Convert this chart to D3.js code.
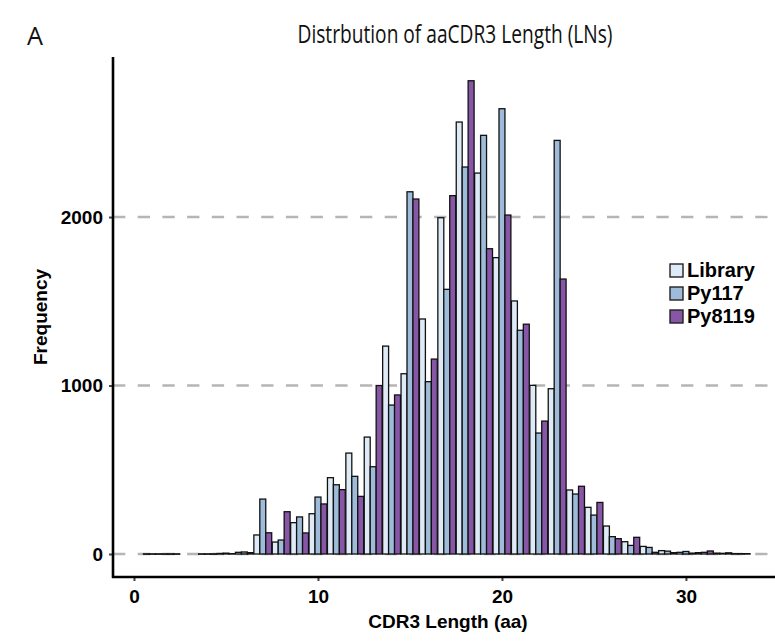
<!DOCTYPE html>
<html>
<head>
<meta charset="utf-8">
<script src="https://cdn.jsdelivr.net/npm/d3@7"></script>
<style>
  html, body { margin: 0; padding: 0; background: #fff; }
  svg { display: block; }
  text.b { font-family: "Liberation Sans", Arial, Helvetica, sans-serif; font-weight: 700; fill: #000; }
</style>
</head>
<body>
<svg id="chart" width="775" height="644"></svg>
<script>
const lengths = [1, 2, 4, 5, 6, 7, 8, 9, 10, 11, 12, 13, 14, 15, 16, 17, 18, 19, 20, 21, 22, 23, 24, 25, 26, 27, 28, 29, 30, 31, 32, 33];
const seriesNames = ["Library", "Py117", "Py8119"];
const library = [1, 1, 1, 3, 10, 113, 71, 186, 239, 453, 599, 694, 1234, 1070, 1395, 1996, 2564, 2261, 1759, 1502, 1001, 981, 380, 277, 166, 73, 45, 20, 10, 8, 5, 2];
const py117   = [1, 1, 1, 5, 12, 326, 83, 220, 338, 411, 461, 518, 884, 2150, 1023, 1571, 2297, 2485, 2643, 1328, 718, 2455, 356, 231, 103, 51, 39, 17, 15, 10, 4, 2];
const py8119  = [1, 1, 1, 2, 8, 126, 251, 125, 297, 382, 342, 1000, 944, 2107, 1157, 2127, 2809, 1812, 2012, 1364, 789, 1632, 402, 306, 91, 99, 10, 8, 5, 18, 7, 2];
const seriesColors = ["#deebf7", "#9ebcda", "#8856a7"];
const xTicks = [0, 10, 20, 30];
const yTicks = [0, 1000, 2000];

const seriesValues = [library, py117, py8119];
const svg = d3.select("#chart");
const titleFont = "Open Sans, Noto Sans, sans-serif";

const x = d3.scaleLinear().domain([-1.141, 34.84]).range([113, 775]);
const y = d3.scaleLinear().domain([-136.5, 2950]).range([577, 57]);
const groupW = 0.97;
const sub = d3.scaleBand().domain(seriesNames).range([-groupW / 2, groupW / 2]).padding(0);
const color = d3.scaleOrdinal().domain(seriesNames).range(seriesColors);

// grid lines
svg.append("g").selectAll("line").data(yTicks).join("line")
  .attr("x1", 113).attr("x2", 775)
  .attr("y1", d => y(d)).attr("y2", d => y(d))
  .attr("stroke", "#b5b5b5").attr("stroke-width", 2.4)
  .attr("stroke-dasharray", "12.3,12.4");

// bars
const rows = [];
lengths.forEach((L, i) => seriesNames.forEach((s, j) => rows.push({ L, s, v: seriesValues[j][i] })));
svg.append("g").selectAll("rect").data(rows).join("rect")
  .attr("x", d => x(d.L + sub(d.s)))
  .attr("width", d => x(d.L + sub(d.s) + sub.bandwidth()) - x(d.L + sub(d.s)))
  .attr("y", d => y(d.v))
  .attr("height", d => Math.max(0.4, y(0) - y(d.v)))
  .attr("fill", d => color(d.s))
  .attr("stroke", "#111").attr("stroke-width", 1.3);

// axes
const xAxis = svg.append("g").attr("transform", "translate(0,577)")
  .call(d3.axisBottom(x).tickValues(xTicks).tickFormat(d3.format("d")).tickSize(4).tickPadding(6).tickSizeOuter(0));
xAxis.attr("font-size", null).attr("font-family", null);
xAxis.select(".domain").remove();
xAxis.selectAll(".tick line").attr("stroke", "#444").attr("stroke-width", 2);
xAxis.selectAll(".tick text").attr("class", "b").style("font-size", "19px").attr("dy", "0.85em");

const yAxis = svg.append("g").attr("transform", "translate(113,0)")
  .call(d3.axisLeft(y).tickValues(yTicks).tickFormat(d3.format("d")).tickSize(4).tickPadding(6).tickSizeOuter(0));
yAxis.attr("font-size", null).attr("font-family", null);
yAxis.select(".domain").remove();
yAxis.selectAll(".tick line").attr("stroke", "#444").attr("stroke-width", 2);
yAxis.selectAll(".tick text").attr("class", "b").style("font-size", "19px");

svg.append("line").attr("x1", 113).attr("x2", 113).attr("y1", 57).attr("y2", 578)
  .attr("stroke", "#000").attr("stroke-width", 2.6);
svg.append("line").attr("x1", 112).attr("x2", 775).attr("y1", 577).attr("y2", 577)
  .attr("stroke", "#000").attr("stroke-width", 2.6);

// axis titles
svg.append("text").attr("class", "b").attr("x", 448).attr("y", 628).attr("text-anchor", "middle")
  .style("font-size", "19px").text("CDR3 Length (aa)");
svg.append("text").attr("class", "b").attr("transform", "translate(47,317) rotate(-90)")
  .attr("text-anchor", "middle").style("font-size", "19px").text("Frequency");

// title
svg.append("text").attr("x", 455).attr("y", 43).attr("text-anchor", "middle")
  .attr("font-family", titleFont).attr("font-size", 25).attr("fill", "#111")
  .attr("textLength", 315).attr("lengthAdjust", "spacingAndGlyphs")
  .text("Distrbution of aaCDR3 Length (LNs)");
svg.append("text").attr("x", 27).attr("y", 45)
  .attr("font-family", titleFont).attr("font-size", 25).attr("fill", "#111")
  .attr("textLength", 16).attr("lengthAdjust", "spacingAndGlyphs")
  .text("A");

// legend
const leg = svg.append("g").attr("transform", "translate(670,264)");
const li = leg.selectAll("g").data(seriesNames).join("g")
  .attr("transform", (d, i) => `translate(0,${i * 23})`);
li.append("rect").attr("width", 13).attr("height", 13)
  .attr("fill", d => color(d)).attr("stroke", "#222").attr("stroke-width", 1.4);
li.append("text").attr("class", "b").attr("x", 17).attr("y", 13)
  .style("font-size", "20px").text(d => d);
</script>
</body>
</html>
